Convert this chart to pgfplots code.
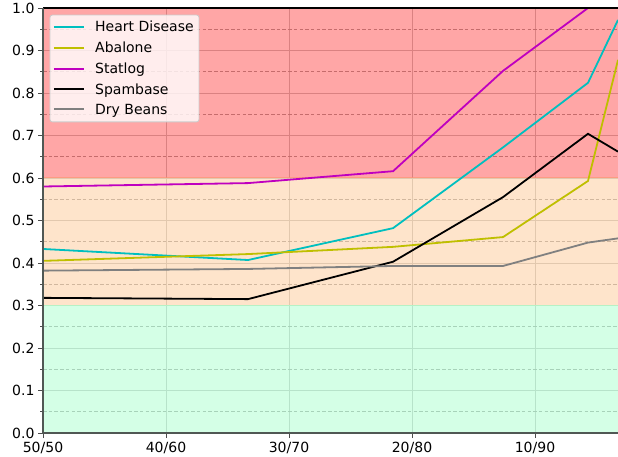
\documentclass[border=0pt]{standalone}
\usepackage{fontspec}
\setmainfont{DejaVu Sans}
\usepackage{pgfplots}
\pgfplotsset{compat=1.18}
\definecolor{heartc}{RGB}{0,191,191}
\definecolor{abalc}{RGB}{191,191,0}
\definecolor{statc}{RGB}{191,0,191}
\definecolor{beanc}{RGB}{128,128,128}
\definecolor{bandred}{RGB}{255,0,0}
\definecolor{bandpeach}{RGB}{253,201,151}
\definecolor{bandgreen}{RGB}{169,255,205}
\definecolor{spine}{RGB}{80,88,84}
\begin{document}
\begin{tikzpicture}
\begin{axis}[
  at={(43bp,24bp)}, anchor=south west,
  scale only axis, width=615bp, height=425bp,
  xmin=0, xmax=5, ymin=0, ymax=1,
  xtick={0,1,2,3,4}, xticklabels={50/50,40/60,30/70,20/80,10/90},
  ytick={0,0.1,0.2,0.3,0.4,0.5,0.6,0.7,0.8,0.9,1.0},
  minor ytick={0.05,0.15,0.25,0.35,0.45,0.55,0.65,0.75,0.85,0.95},
  xmajorgrids, ymajorgrids, yminorgrids,
  major grid style={solid, color=black!22, line width=0.8bp},
  minor grid style={color=black!35, line width=0.8bp, dash pattern=on 3.5bp off 2.2bp},
  tick align=outside, major tick length=5bp, minor tick length=3bp,
  tick style={color=black!70, line width=0.8bp},
  axis x line*=bottom, axis y line*=left,
  axis line style={color=spine, line width=1.5bp, -},
  tick label style={font=\fontsize{14bp}{16bp}\selectfont},
  xticklabel style={yshift=-1bp},
  /pgf/number format/assume math mode=true,
  yticklabel style={/pgf/number format/.cd, fixed, fixed zerofill, precision=1},
  clip mode=individual,
]
% background bands
\addplot[forget plot, draw=bandred, fill=bandred, fill opacity=0.35, draw opacity=0.35, line width=1bp]
  coordinates {(0,0.6) (5,0.6) (5,1) (0,1)} -- cycle;
\addplot[forget plot, draw=bandpeach, fill=bandpeach, fill opacity=0.5, draw opacity=0.5, line width=1bp]
  coordinates {(0,0.3) (5,0.3) (5,0.6) (0,0.6)} -- cycle;
\addplot[forget plot, draw=bandgreen, fill=bandgreen, fill opacity=0.5, draw opacity=0.5, line width=1bp]
  coordinates {(0,0) (5,0) (5,0.3) (0,0.3)} -- cycle;
% series
\addplot[forget plot, heartc, line width=1.8bp]
  coordinates {(0,0.433) (1.667,0.407) (2.846,0.482) (3.740,0.672) (4.431,0.824) (4.675,0.972)};
\addplot[forget plot, abalc, line width=1.8bp]
  coordinates {(0,0.405) (1.667,0.421) (2.846,0.438) (3.740,0.461) (4.431,0.593) (4.675,0.878)};
\addplot[forget plot, statc, line width=1.8bp]
  coordinates {(0,0.580) (1.667,0.588) (2.846,0.616) (3.740,0.852) (4.431,1.000) (4.675,1.000)};
\addplot[forget plot, black, line width=1.8bp]
  coordinates {(0,0.318) (1.667,0.315) (2.846,0.403) (3.740,0.555) (4.431,0.704) (4.675,0.662)};
\addplot[forget plot, beanc, line width=1.8bp]
  coordinates {(0,0.382) (1.667,0.386) (2.846,0.393) (3.740,0.393) (4.431,0.448) (4.675,0.458)};
\draw[black, line width=1.3bp] (rel axis cs:0,1) -- (rel axis cs:1,1);
\draw[spine, line width=1.5bp] (rel axis cs:0,1) -- (rel axis cs:0,0) -- (rel axis cs:1,0);
% legend
\path[draw=black!20, fill=white, fill opacity=0.8, line width=0.8bp, rounded corners=2.5bp]
  (axis cs:0.0569,0.732) rectangle (axis cs:1.268,0.9835);
\draw[heartc, line width=1.8bp] (axis cs:0.0894,0.9560) -- (axis cs:0.3333,0.9560);
\draw[abalc, line width=1.8bp] (axis cs:0.0894,0.9066) -- (axis cs:0.3333,0.9066);
\draw[statc, line width=1.8bp] (axis cs:0.0894,0.8572) -- (axis cs:0.3333,0.8572);
\draw[black, line width=1.8bp] (axis cs:0.0894,0.8094) -- (axis cs:0.3333,0.8094);
\draw[beanc, line width=1.8bp] (axis cs:0.0894,0.7616) -- (axis cs:0.3333,0.7616);
\begin{scope}[every node/.style={anchor=base west, inner sep=0pt, font=\fontsize{14bp}{16bp}\selectfont, text=black}]
\node at (axis cs:0.4228,0.9442) {Heart Disease};
\node at (axis cs:0.4228,0.8948) {Abalone};
\node at (axis cs:0.4228,0.8454) {Statlog};
\node at (axis cs:0.4228,0.7976) {Spambase};
\node at (axis cs:0.4228,0.7498) {Dry Beans};
\end{scope}
\end{axis}
\pgfresetboundingbox
\path[use as bounding box] (0,0) rectangle (618bp,457bp);
\end{tikzpicture}
\end{document}
